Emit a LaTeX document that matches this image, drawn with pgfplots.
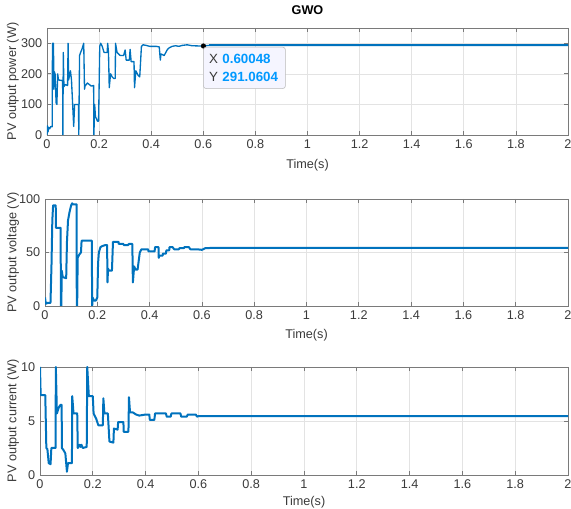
\documentclass[border=0pt]{standalone}
\usepackage{fontspec}
\setmainfont{Liberation Sans}
\usepackage{pgfplots}
\pgfplotsset{compat=1.18}
\definecolor{mblue}{HTML}{0072BD}
\definecolor{tipblue}{HTML}{0099FF}
\definecolor{axgray}{HTML}{7A7A7A}
\definecolor{tkgray}{HTML}{3A3A3A}
\definecolor{grgray}{HTML}{E3E3E3}
\newcommand{\fs}{\fontsize{9.5}{11}\selectfont}
\pgfplotsset{
  mat/.style={
    scale only axis,
    anchor=south west,
    xmin=0, xmax=2,
    xtick={0,0.2,...,2.01},
    xticklabels={0,0.2,0.4,0.6,0.8,1,1.2,1.4,1.6,1.8,2},
    grid=major,
    major grid style={grgray, line width=0.5pt},
    axis line style={axgray, line width=0.6pt},
    tick style={axgray, line width=0.6pt},
    major tick length=3pt,
    tick align=inside,
    tick label style={font=\fs, text=tkgray},
    label style={font=\fs, text=tkgray},
    /pgf/number format/assume math mode=true,
    xlabel={Time(s)},
    axis on top=false,
  }
}
\begin{document}
\begin{tikzpicture}
% ---------- Power ----------
\begin{axis}[mat,
  at={(35.25pt,280.5pt)}, width=390.75pt, height=80.25pt,
  ymin=0, ymax=350, ytick={0,100,200,300},
  ylabel={PV output power (W)},
  ylabel style={at={(axis description cs:-0.0653,0.5)}, anchor=center, rotate=0},
  xlabel style={at={(axis description cs:0.5,-0.285)}, anchor=center},
  title={GWO},
  title style={at={(axis description cs:0.5,1.0935)}, anchor=center, font=\fs\bfseries, text=black},
]
\addplot[mblue, line width=1.0pt, line join=round] coordinates {
(0,0) (0.002,30) (0.004,10) (0.006,25) (0.01,20) (0.015,28) (0.02,27)
(0.021,300) (0.025,300) (0.026,150) (0.028,207) (0.031,200) (0.035,105) (0.038,100)
(0.041,200) (0.044,180) (0.06,178) (0.061,0) (0.0625,270) (0.065,158) (0.07,165)
(0.079,162) (0.081,300) (0.083,180) (0.09,210) (0.094,180) (0.1025,28) (0.106,100)
(0.121,100) (0.122,0) (0.125,260) (0.129,270) (0.134,280) (0.141,300) (0.144,150)
(0.146,160) (0.155,170) (0.1625,165) (0.17,160) (0.179,162) (0.18,0) (0.183,100)
(0.186,60) (0.194,45) (0.198,45) (0.2025,290) (0.206,300) (0.212,290) (0.219,270)
(0.231,270) (0.233,300) (0.236,270) (0.239,155) (0.244,200) (0.25,190) (0.256,185)
(0.262,185) (0.263,300) (0.269,270) (0.281,260) (0.294,260) (0.3,278) (0.304,245)
(0.316,245) (0.319,280) (0.323,240) (0.334,240) (0.336,155) (0.341,210) (0.35,195)
(0.356,190) (0.3625,290) (0.369,295) (0.381,293) (0.394,290) (0.419,290) (0.431,288)
(0.435,245) (0.4375,265) (0.45,260) (0.456,270) (0.4625,280) (0.469,285) (0.481,290)
(0.494,292) (0.506,290) (0.519,293) (0.538,295) (0.556,292) (0.591,291) (0.60048,291.06)
(0.62,293) (2,293)
};
\addplot[mblue, line width=1.5pt] coordinates {(0.62,293) (2,293)};
\addplot[only marks, mark=*, mark size=1.7pt, black, clip mode=individual] coordinates {(0.60048,291.0604)};
\node[draw=gray!55, fill=white!96!blue, rounded corners=2pt, anchor=north west,
      align=left, inner xsep=4pt, inner ysep=4pt, font=\fontsize{10}{12}\selectfont, text=tkgray,
      minimum width=61.5pt, minimum height=31pt, text width=53pt]
  at (axis cs:0.5995,288) {X \textcolor{tipblue}{\bfseries 0.60048}\\[1pt]Y \textcolor{tipblue}{\bfseries 291.0604}};
\end{axis}
% ---------- Voltage ----------
\begin{axis}[mat,
  at={(33.75pt,152.25pt)}, width=392.25pt, height=80.25pt,
  ymin=0, ymax=100, ytick={0,50,100},
  ylabel={PV output voltage (V)},
  ylabel style={at={(axis description cs:-0.0612,0.5)}, anchor=center, rotate=0},
  xlabel style={at={(axis description cs:0.5,-0.275)}, anchor=center},
]
\addplot[mblue, line width=1.5pt, line join=round] coordinates {
(0,8) (0.003,2) (0.01,3) (0.021,3) (0.025,40) (0.028,80) (0.031,94) (0.041,94) (0.042,73)
(0.06,73) (0.0605,0) (0.0625,0) (0.064,33) (0.068,27) (0.081,26) (0.084,60) (0.088,80)
(0.094,88) (0.1,94) (0.104,96) (0.106,95) (0.121,95) (0.1215,0) (0.123,0) (0.125,45)
(0.131,48) (0.1375,50) (0.14,61) (0.179,61) (0.18,15) (0.1805,0) (0.182,8) (0.188,5)
(0.194,5) (0.2,8) (0.203,40) (0.206,50) (0.212,55) (0.219,56) (0.231,57) (0.2375,57)
(0.239,22) (0.241,35) (0.245,33) (0.256,33) (0.26,60) (0.281,60) (0.282,58) (0.3,58)
(0.301,57) (0.319,57) (0.32,58) (0.334,58) (0.336,22) (0.341,37) (0.346,34) (0.354,34)
(0.3625,50) (0.369,53) (0.394,53) (0.396,51) (0.419,51) (0.421,55) (0.434,55) (0.435,45)
(0.4375,47) (0.45,47) (0.451,49) (0.4625,49) (0.464,52) (0.475,52) (0.476,55) (0.488,55)
(0.494,53) (0.512,53) (0.514,54) (0.531,54) (0.533,55) (0.55,55) (0.556,53) (0.581,53)
(0.6,52.5) (0.6125,54) (0.63,54.2) (2,54.2)
};
\end{axis}
% ---------- Current ----------
\begin{axis}[mat,
  at={(30pt,25.5pt)}, width=396pt, height=81pt,
  ymin=0, ymax=10, ytick={0,5,10},
  ylabel={PV output current (W)},
  ylabel style={at={(axis description cs:-0.0511,0.5)}, anchor=center, rotate=0},
  xlabel style={at={(axis description cs:0.5,-0.255)}, anchor=center},
]
\addplot[mblue, line width=1.5pt, line join=round] coordinates {
(0,10) (0.0025,7.4) (0.02,7.4) (0.024,2.5) (0.028,2.4) (0.033,1.1) (0.04,1.0) (0.043,2.5)
(0.059,2.5) (0.06,10) (0.064,5.7) (0.068,6.0) (0.072,6.3) (0.078,6.5) (0.082,6.5)
(0.083,2.5) (0.089,2.3) (0.096,2.0) (0.102,0.3) (0.106,1.1) (0.121,1.1) (0.122,7.3)
(0.127,5.7) (0.141,5.7) (0.143,2.5) (0.15,2.8) (0.154,2.6) (0.157,2.8) (0.162,2.5)
(0.177,2.6) (0.179,10) (0.185,7.3) (0.2,7.3) (0.203,5.7) (0.213,5.2) (0.221,4.6)
(0.238,4.6) (0.24,7.1) (0.244,5.7) (0.257,5.7) (0.263,3.1) (0.278,3.0) (0.28,4.3)
(0.294,4.2) (0.296,4.9) (0.316,4.9) (0.317,4.0) (0.335,4.0) (0.337,7.2) (0.341,5.8)
(0.351,5.8) (0.364,5.6) (0.376,5.5) (0.4,5.6) (0.414,5.6) (0.416,5.1) (0.433,5.1)
(0.436,5.7) (0.477,5.7) (0.48,5.4) (0.495,5.4) (0.498,5.7) (0.532,5.7) (0.535,5.4)
(0.556,5.4) (0.56,5.6) (0.59,5.6) (0.595,5.4) (0.6,5.45) (0.62,5.45) (2,5.45)
};
\end{axis}
\pgfresetboundingbox
\useasboundingbox (0,0) rectangle (428.25pt,381.75pt);
\end{tikzpicture}
\end{document}
